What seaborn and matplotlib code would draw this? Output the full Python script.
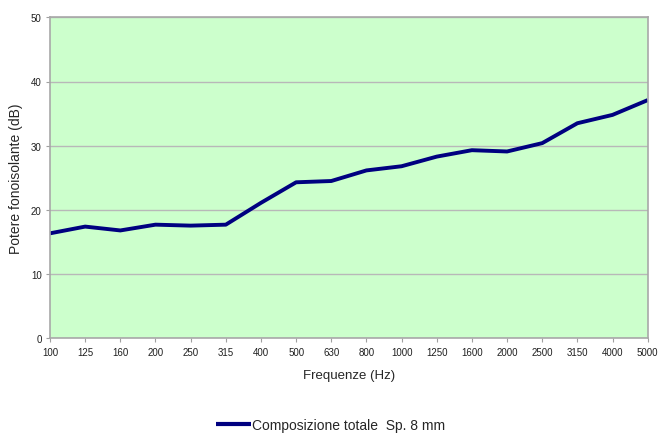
import matplotlib
matplotlib.use("Agg")
import matplotlib.pyplot as plt
import seaborn as sns
import pandas as pd
import numpy as np

freqs = ["100", "125", "160", "200", "250", "315", "400", "500", "630", "800",
         "1000", "1250", "1600", "2000", "2500", "3150", "4000", "5000"]
values = [16.35, 17.4, 16.8, 17.7, 17.55, 17.7, 21.1, 24.3, 24.5, 26.15,
          26.8, 28.3, 29.3, 29.1, 30.4, 33.5, 34.8, 37.1]
series_name = "Composizione totale  Sp. 8 mm"

df = pd.DataFrame({"pos": np.arange(len(freqs)), "val": values, "serie": series_name})

sns.set_theme(style="white")
plt.rcParams["font.family"] = ["Liberation Sans", "DejaVu Sans"]

fig = plt.figure(figsize=(6.61, 4.35), dpi=100)
ax = fig.add_axes([50 / 661, (435 - 339.3) / 435, 597.7 / 661, 321 / 435])
ax.set_facecolor("#CCFFCC")

sns.lineplot(data=df, x="pos", y="val", hue="serie", palette=["#000080"],
             linewidth=2.8, ax=ax, legend=True, solid_capstyle="butt",
             solid_joinstyle="round")

ax.set_xlim(0, len(freqs) - 1)
ax.set_ylim(0, 50)
ax.set_yticks([0, 10, 20, 30, 40, 50])
ax.set_xticks(np.arange(len(freqs)))
ax.set_xticklabels(freqs)
ax.yaxis.grid(True, color="#B8B8B8", linewidth=1)
ax.set_axisbelow(True)
for s in ax.spines.values():
    s.set_color("#A8A8A8")
    s.set_linewidth(1.2)
ax.tick_params(axis="both", which="both", length=3, width=0.8, color="#A0A0A0",
               labelsize=7, labelcolor="#202020", pad=3)
ax.tick_params(axis="x", direction="out", bottom=True)
ax.tick_params(axis="y", direction="out", left=True)

ax.set_xlabel("Frequenze (Hz)", fontsize=9.5, labelpad=9)
ax.set_ylabel("Potere fonoisolante (dB)", fontsize=10, labelpad=6)

leg = ax.legend(loc="center", frameon=False, fontsize=10, handlelength=2.5,
                handletextpad=0.1)
leg.set_bbox_to_anchor((0.5, 9 / 435), transform=fig.transFigure)
for line in leg.get_lines():
    line.set_linewidth(3)

fig.savefig("out.png", dpi=100)
